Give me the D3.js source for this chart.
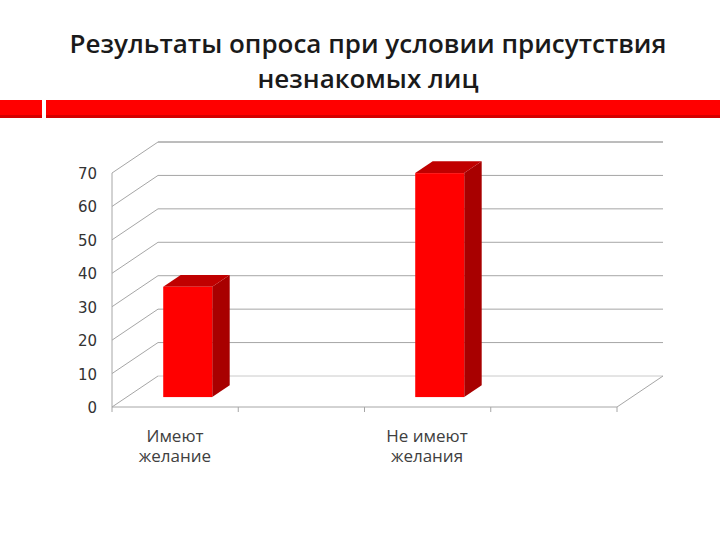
<!DOCTYPE html>
<html><head><meta charset="utf-8">
<script src="https://cdn.jsdelivr.net/npm/d3@7"></script>
<style>body{margin:0;background:#fff}</style>
</head><body><svg id="c" width="720" height="540"></svg>
<script>
const categories = ['Имеют\nжелание', 'Не имеют\nжелания'];
const values = [33, 67];
const yTicks = [0, 10, 20, 30, 40, 50, 60, 70];

const svg = d3.select('#c');
const grid = '#a6a6a6';

// title and red band
const title = svg.append('text').attr('text-anchor', 'middle')
  .style('font-family', 'Open Sans').style('font-weight', 600).style('font-size', '26px').attr('fill', '#1a1a1a');
title.append('tspan').attr('x', 368).attr('y', 53).text('Результаты опроса при условии присутствия');
title.append('tspan').attr('x', 368).attr('y', 88).text('незнакомых лиц');
svg.append('rect').attr('x', 0).attr('y', 100).attr('width', 42).attr('height', 18).attr('fill', '#ff0000');
svg.append('rect').attr('x', 46).attr('y', 100).attr('width', 674).attr('height', 18).attr('fill', '#ff0000');
svg.append('rect').attr('x', 0).attr('y', 115).attr('width', 720).attr('height', 3).attr('fill', '#d40000');
svg.append('rect').attr('x', 42).attr('y', 100).attr('width', 4).attr('height', 18).attr('fill', '#fff');

// scales
const y = d3.scaleLinear().domain([0, 70]).range([407, 173]);
const x = d3.scalePoint().domain(categories).range([175, 427]);
const x0 = 112, x1 = 617, DX = 46, DY = -31;
const P = (px, py, z) => [px + DX * z, py + DY * z];

// back wall and left wall gridlines
yTicks.forEach(v => {
  const [bx, by] = P(x0, y(v), 1);
  svg.append('line').attr('x1', x0).attr('y1', y(v)).attr('x2', bx).attr('y2', by).attr('stroke', grid);
  if (v > 0) svg.append('line').attr('x1', bx).attr('y1', by).attr('x2', x1 + DX).attr('y2', by).attr('stroke', grid);
});
svg.append('line').attr('x1', x0 + DX).attr('y1', y(70) + DY).attr('x2', x1 + DX).attr('y2', y(70) + DY).attr('stroke', grid);
svg.append('line').attr('x1', x0).attr('y1', y(0)).attr('x2', x0).attr('y2', y(70)).attr('stroke', grid);
// floor
svg.append('line').attr('x1', x0).attr('y1', y(0)).attr('x2', x1).attr('y2', y(0)).attr('stroke', grid);
svg.append('line').attr('x1', x1).attr('y1', y(0)).attr('x2', x1 + DX).attr('y2', y(0) + DY).attr('stroke', grid);
svg.append('line').attr('x1', x0 + DX).attr('y1', y(0) + DY).attr('x2', x1 + DX).attr('y2', y(0) + DY).attr('stroke', grid).attr('stroke-opacity', 0.6);
// category ticks
d3.range(5).forEach(i => {
  const tx = x0 + (x1 - x0) * i / 4;
  svg.append('line').attr('x1', tx).attr('y1', y(0)).attr('x2', tx).attr('y2', y(0) + 5).attr('stroke', grid);
});

// y axis labels
svg.append('g').selectAll('text').data(yTicks).enter().append('text')
  .attr('x', 97).attr('y', d => y(d) + 6).attr('text-anchor', 'end')
  .style('font-family', 'DejaVu Sans').style('font-size', '15px').attr('fill', '#333').text(d => d);

// bars
const bw = 49, z0 = 0.32, z1 = 0.7;
categories.forEach((c, i) => {
  const fx = x(c) - 2 - bw / 2;
  const [ax, ay] = P(fx, y(0), z0);
  const [tx, ty] = P(fx, y(values[i]), z0);
  const h = ay - ty;
  const ddx = DX * (z1 - z0), ddy = DY * (z1 - z0);
  const g = svg.append('g');
  g.append('path').attr('fill', '#a80000')
    .attr('d', `M${ax + bw},${ay} L${ax + bw + ddx},${ay + ddy} L${tx + bw + ddx},${ty + ddy} L${tx + bw},${ty} Z`);
  g.append('path').attr('fill', '#c00000')
    .attr('d', `M${tx},${ty} L${tx + ddx},${ty + ddy} L${tx + bw + ddx},${ty + ddy} L${tx + bw},${ty} Z`);
  g.append('rect').attr('x', tx).attr('y', ty).attr('width', bw).attr('height', h).attr('fill', '#ff0000');
});

// category labels
categories.forEach(c => {
  const t = svg.append('text').attr('text-anchor', 'middle')
    .style('font-family', 'Open Sans').style('font-size', '17px').attr('fill', '#404040');
  c.split('\n').forEach((l, j) => t.append('tspan').attr('x', x(c)).attr('y', 442 + j * 20).text(l));
});
</script></body></html>
